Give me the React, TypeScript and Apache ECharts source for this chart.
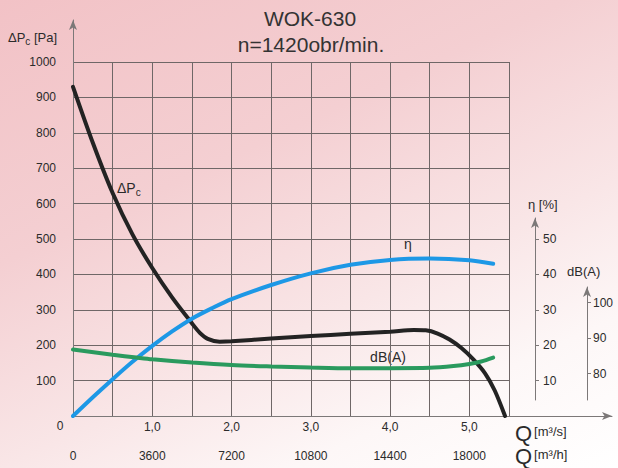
import React, { useEffect, useRef } from "react";
import * as echarts from "echarts";

// Pressure curve ΔPc [Pa] vs Q [m³/s]
const pressureQ = [0, 0.25, 0.5, 0.75, 1.0, 1.25, 1.5, 1.6, 1.7, 1.85, 2.0, 2.5, 3.0, 3.5, 4.0, 4.3, 4.45, 4.6, 4.75, 4.9, 5.05, 5.2, 5.32, 5.45];
const pressurePa = [930, 772, 630, 513, 418, 335, 262, 235, 218, 210, 211, 219, 226, 232, 238, 243, 242, 233, 216, 192, 160, 120, 72, 0];

// Efficiency η [%] vs Q [m³/s]
const effQ = [0, 0.25, 0.5, 0.75, 1.0, 1.25, 1.5, 1.75, 2.0, 2.5, 3.0, 3.5, 4.0, 4.5, 5.0, 5.3];
const effPct = [0, 5.3, 10.4, 15.3, 19.8, 23.9, 27.5, 30.4, 33.0, 37.0, 40.3, 42.7, 44.1, 44.5, 44.0, 43.0];

// Noise dB(A) vs Q [m³/s]
const noiseQ = [0, 0.5, 0.8, 1.0, 1.5, 2.0, 2.5, 3.0, 3.5, 4.0, 4.5, 4.8, 5.0, 5.15, 5.3];
const noiseDb = [86.8, 85.3, 84.5, 84.0, 83.1, 82.4, 82.0, 81.7, 81.5, 81.5, 81.6, 82.1, 82.7, 83.4, 84.5];

// Tick labels
const m3sTicks = [1, 2, 3, 4, 5];
const m3sLabels = ["1,0", "2,0", "3,0", "4,0", "5,0"];
const m3hTicks = [0, 3600, 7200, 10800, 14400, 18000];
const m3hLabels = ["0", "3600", "7200", "10800", "14400", "18000"];
const effTicks = [10, 20, 30, 40, 50];
const dbTicks = [80, 90, 100];

const FONT = "'Liberation Sans', Arial, Helvetica, sans-serif";

export default function App() {
  const ref = useRef<HTMLDivElement>(null);

  useEffect(() => {
    const chart = echarts.init(ref.current as HTMLDivElement, null, { renderer: "svg" });
    const zip = (xs: number[], ys: number[]) => xs.map((x, i) => [x, ys[i]]);
    const gridColor = "#6f6767";
    const axisColor = "#7c7878";
    const textColor = "#2b2b2b";
    const labelStyle = { color: textColor, fontSize: 12, fontFamily: FONT };
    const off = { show: false };
    const arrowLine = { show: true, symbol: ["none", "arrow"], symbolSize: [6, 10], lineStyle: { color: axisColor, width: 1 } };

    const option = {
      animation: false,
      backgroundColor: "transparent",
      grid: [
        { left: 73, top: 62, width: 436, height: 354 },
        { left: 73, top: 20, width: 539, height: 396 },
        { left: 535, top: 218, width: 10, height: 182 },
        { left: 587, top: 287, width: 10, height: 113 },
      ],
      xAxis: [
        {
          gridIndex: 0, type: "value", position: "bottom", min: 0, max: 5.5, interval: 0.5,
          axisLine: off, axisTick: off,
          splitLine: { show: true, lineStyle: { color: gridColor, width: 1 } },
          axisLabel: {
            ...labelStyle, margin: 5,
            formatter: (v: number) => {
              const i = m3sTicks.indexOf(v);
              return i >= 0 ? m3sLabels[i] : "";
            },
          },
        },
        {
          gridIndex: 0, type: "value", position: "bottom", offset: 0, min: 0, max: 19800, interval: 1800,
          axisLine: off, axisTick: off, splitLine: off,
          axisLabel: {
            ...labelStyle, margin: 34,
            formatter: (v: number) => {
              const i = m3hTicks.indexOf(v);
              return i >= 0 ? m3hLabels[i] : "";
            },
          },
        },
        {
          gridIndex: 1, type: "value", position: "bottom", min: 0, max: 1,
          axisLine: arrowLine, axisTick: off, axisLabel: off, splitLine: off,
        },
        { gridIndex: 2, type: "value", show: false },
        { gridIndex: 3, type: "value", show: false },
      ],
      yAxis: [
        {
          gridIndex: 0, type: "value", position: "left", min: 0, max: 1000, interval: 100,
          axisLine: off, axisTick: off,
          splitLine: { show: true, lineStyle: { color: gridColor, width: 1 } },
          axisLabel: { ...labelStyle, margin: 17, formatter: (v: number) => (v === 0 ? "" : String(v)) },
        },
        { gridIndex: 0, type: "value", min: 0, max: 100, show: false },
        { gridIndex: 0, type: "value", min: 68, max: 168, show: false },
        {
          gridIndex: 1, type: "value", position: "left", min: 0, max: 1,
          axisLine: arrowLine, axisTick: off, axisLabel: off, splitLine: off,
        },
        {
          gridIndex: 2, type: "value", position: "left", min: 4.52, max: 55.93,
          axisLine: arrowLine,
          axisTick: { show: true, inside: true, length: 4, customValues: effTicks, lineStyle: { color: axisColor } },
          axisLabel: { ...labelStyle, inside: true, margin: 8, customValues: effTicks },
          splitLine: off,
        },
        {
          gridIndex: 3, type: "value", position: "left", min: 72.52, max: 104.44,
          axisLine: arrowLine,
          axisTick: { show: true, inside: true, length: 4, customValues: dbTicks, lineStyle: { color: axisColor } },
          axisLabel: { ...labelStyle, inside: true, margin: 6, customValues: dbTicks },
          splitLine: off,
        },
      ],
      series: [
        {
          name: "ΔPc", type: "line", xAxisIndex: 0, yAxisIndex: 0,
          data: zip(pressureQ, pressurePa), smooth: 0.3,
          symbol: "none", lineStyle: { color: "#232323", width: 4, cap: "round" },
        },
        {
          name: "η", type: "line", xAxisIndex: 0, yAxisIndex: 1,
          data: zip(effQ, effPct), smooth: 0.3,
          symbol: "none", lineStyle: { color: "#1d98e6", width: 4, cap: "round" },
        },
        {
          name: "dB(A)", type: "line", xAxisIndex: 0, yAxisIndex: 2,
          data: zip(noiseQ, noiseDb), smooth: 0.3,
          symbol: "none", lineStyle: { color: "#2a9a5e", width: 4, cap: "round" },
        },
      ],
      graphic: [
        { type: "text", x: 310, y: 18, style: { text: "WOK-630", fontSize: 21, fontFamily: FONT, fill: "#333", align: "center", verticalAlign: "middle" } },
        { type: "text", x: 311, y: 44, style: { text: "n=1420obr/min.", fontSize: 21, fontFamily: FONT, fill: "#333", align: "center", verticalAlign: "middle" } },
        {
          type: "text", x: 8, y: 37,
          style: {
            text: "{a|ΔP}{s|c}{a| [Pa]}", verticalAlign: "middle",
            rich: {
              a: { fontSize: 13, fontFamily: FONT, fill: textColor },
              s: { fontSize: 10, fontFamily: FONT, fill: textColor, padding: [9, 0, 0, 0] },
            },
          },
        },
        {
          type: "text", x: 117, y: 188,
          style: {
            text: "{a|ΔP}{s|c}", verticalAlign: "middle",
            rich: {
              a: { fontSize: 14, fontFamily: FONT, fill: textColor },
              s: { fontSize: 10, fontFamily: FONT, fill: textColor, padding: [9, 0, 0, 0] },
            },
          },
        },
        { type: "text", x: 408, y: 244, style: { text: "η", fontSize: 14, fontFamily: FONT, fill: textColor, align: "center", verticalAlign: "middle" } },
        { type: "text", x: 388, y: 357, style: { text: "dB(A)", fontSize: 14, fontFamily: FONT, fill: textColor, align: "center", verticalAlign: "middle" } },
        { type: "text", x: 528, y: 204, style: { text: "η [%]", fontSize: 13, fontFamily: FONT, fill: textColor, verticalAlign: "middle" } },
        { type: "text", x: 567, y: 271, style: { text: "dB(A)", fontSize: 13, fontFamily: FONT, fill: textColor, verticalAlign: "middle" } },
        { type: "text", x: 60, y: 426, style: { text: "0", fontSize: 12, fontFamily: FONT, fill: textColor, align: "center", verticalAlign: "middle" } },
        {
          type: "text", x: 515, y: 433,
          style: {
            text: "{q|Q}{u|[m³/s]}", verticalAlign: "middle",
            rich: {
              q: { fontSize: 22, fontFamily: FONT, fill: textColor },
              u: { fontSize: 13, fontFamily: FONT, fill: textColor, padding: [0, 0, 4, 2] },
            },
          },
        },
        {
          type: "text", x: 515, y: 456,
          style: {
            text: "{q|Q}{u|[m³/h]}", verticalAlign: "middle",
            rich: {
              q: { fontSize: 22, fontFamily: FONT, fill: textColor },
              u: { fontSize: 13, fontFamily: FONT, fill: textColor, padding: [0, 0, 4, 2] },
            },
          },
        },
      ],
    };

    chart.setOption(option as any);
    return () => chart.dispose();
  }, []);

  return (
    <div
      style={{
        position: "absolute",
        left: 0,
        top: 0,
        width: 618,
        height: 468,
        background: "linear-gradient(155deg, #f2c2c6 0%, #f4cfd2 35%, #f9e6e7 62%, #fdf7f7 80%, #ffffff 100%)",
      }}
    >
      <div ref={ref} style={{ width: 618, height: 468 }} />
    </div>
  );
}
